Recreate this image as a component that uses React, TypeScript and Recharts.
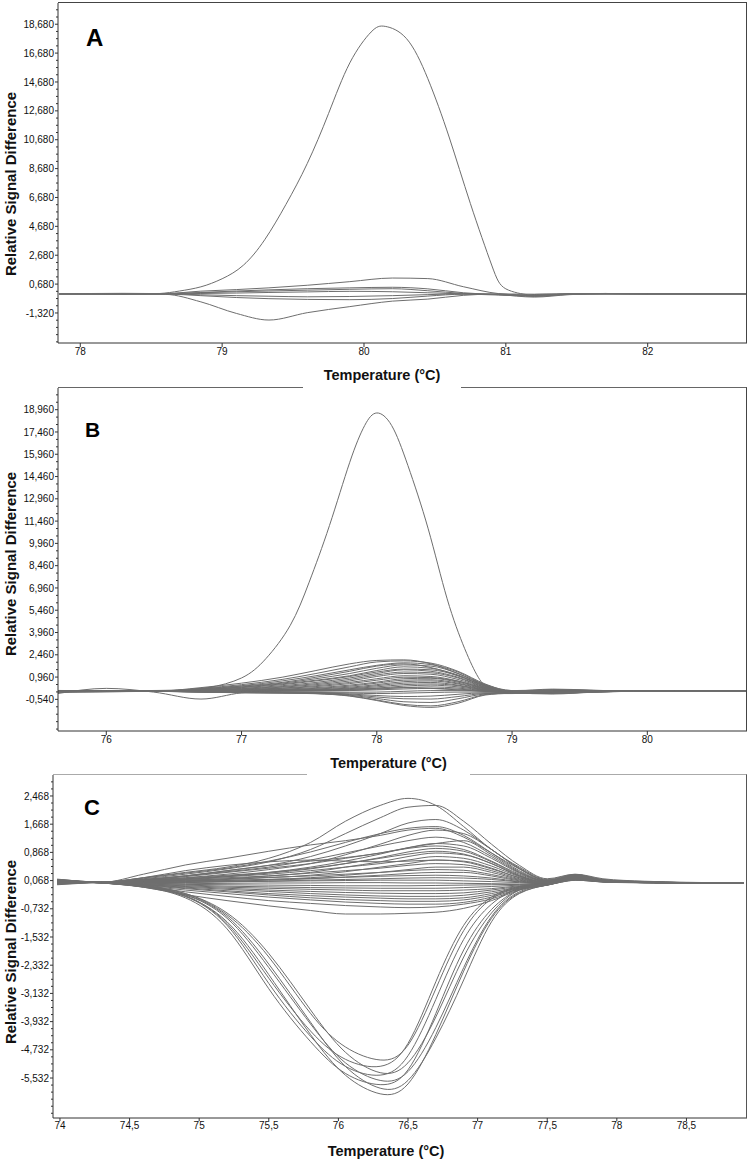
import React from 'react';
import { LineChart, Line, XAxis, YAxis } from 'recharts';

const FONT = "'Liberation Sans', Arial, Helvetica, sans-serif";
const LINE = '#6e6e6e';
const AXIS = '#333333';

// ---------------- Panel A ----------------
const A_X_TICKS = [78, 79, 80, 81, 82];
const A_Y_TICKS = [-1.32, 0.68, 2.68, 4.68, 6.68, 8.68, 10.68, 12.68, 14.68, 16.68, 18.68];
const TA_PEAK = [77.85, 78.3, 78.55, 78.7, 78.85, 79.0, 79.15, 79.3, 79.45, 79.6, 79.75, 79.9, 80.05, 80.15, 80.3, 80.45, 80.6, 80.75, 80.9, 81.0, 81.15, 81.4, 82.7];
const A_PEAK = [0, 0, 0.02, 0.2, 0.49, 1.05, 1.99, 3.75, 6.2, 9.03, 12.49, 16.0, 18.14, 18.53, 17.68, 14.91, 10.87, 6.26, 2.0, 0.35, -0.05, 0, 0];
const TA = [77.85, 78.3, 78.6, 78.85, 79.1, 79.33, 79.6, 79.9, 80.2, 80.45, 80.7, 80.95, 81.2, 81.45, 81.7, 82.0, 82.7];
const A1 = [0, 0.02, 0.03, 0.19, 0.3, 0.42, 0.6, 0.85, 1.1, 1.06, 0.5, 0.02, -0.1, 0, 0.03, 0, 0];
const A2 = [0, 0.04, 0.02, 0.1, 0.2, 0.28, 0.36, 0.42, 0.46, 0.35, 0.08, -0.05, -0.12, 0, 0, 0, 0];
const A3 = [0, -0.03, 0.01, 0.08, 0.15, 0.2, 0.26, 0.32, 0.36, 0.22, 0.03, -0.05, -0.22, -0.05, 0.02, 0, 0];
const A4 = [0, 0.02, 0, 0.03, 0.06, 0.1, 0.14, 0.18, 0.15, 0.08, 0.0, -0.08, -0.15, -0.03, 0.03, 0, 0];
const A5 = [0, -0.02, 0, -0.06, -0.12, -0.16, -0.2, -0.18, -0.12, -0.05, 0, -0.02, -0.08, 0, 0, 0, 0];
const A6 = [0, 0, -0.01, -0.12, -0.25, -0.33, -0.38, -0.4, -0.32, -0.15, -0.02, -0.03, -0.18, -0.02, 0.02, 0, 0];
const A7 = [0, 0, -0.03, -0.55, -1.35, -1.81, -1.3, -0.88, -0.5, -0.36, -0.1, 0, -0.02, 0, 0, 0, 0];

// ---------------- Panel B ----------------
const B_X_TICKS = [76, 77, 78, 79, 80];
const B_Y_TICKS = [-0.54, 0.96, 2.46, 3.96, 5.46, 6.96, 8.46, 9.96, 11.46, 12.96, 14.46, 15.96, 17.46, 18.96];
const TB_PEAK = [75.64, 76.2, 76.5, 76.75, 77.0, 77.18, 77.36, 77.5, 77.65, 77.8, 77.91, 78.0, 78.11, 78.23, 78.38, 78.52, 78.65, 78.75, 78.85, 79.0, 79.3, 80.74];
const B_PEAK = [0.05, 0.05, 0.08, 0.25, 0.9, 2.2, 4.44, 7.35, 11.16, 15.42, 17.89, 18.74, 17.89, 15.2, 10.94, 6.23, 2.87, 0.95, 0.15, -0.05, 0, 0];
const TB = [75.64, 76.0, 76.35, 76.7, 77.0, 77.3, 77.55, 77.8, 78.0, 78.2, 78.4, 78.6, 78.8, 79.0, 79.3, 79.6, 79.9, 80.2, 80.74];
const B_WOBBLE = [-0.15, 0.2, -0.05, -0.52, -0.1, 0.05, 0.1, 0.15, 0.2, 0.25, 0.2, 0.1, 0.0, -0.05, 0, 0, 0, 0, 0];
const B1 = [0.05, 0.03, 0, 0.25, 0.55, 0.95, 1.4, 1.85, 2.08, 2.12, 1.85, 1.2, 0.45, 0.05, 0.0, 0.02, 0, 0, 0];
const B2 = [0.04, 0.02, 0, 0.2, 0.45, 0.8, 1.2, 1.65, 1.98, 2.05, 1.9, 1.35, 0.5, 0.0, -0.05, 0, 0, 0, 0];
const B3 = [-0.03, 0.0, 0, 0.18, 0.38, 0.7, 1.05, 1.45, 1.75, 1.92, 1.8, 1.3, 0.45, -0.02, -0.08, -0.02, 0, 0, 0];
const B4 = [0.02, 0.02, 0, 0.15, 0.35, 0.6, 0.95, 1.35, 1.7, 1.85, 1.6, 1.05, 0.35, -0.05, -0.1, -0.03, 0, 0, 0];
const B5 = [-0.05, -0.02, 0, 0.12, 0.3, 0.55, 0.85, 1.2, 1.55, 1.78, 1.7, 1.2, 0.4, -0.05, -0.12, -0.05, 0, 0, 0];
const B6 = [0.06, 0.03, 0, 0.1, 0.28, 0.5, 0.75, 1.05, 1.4, 1.65, 1.55, 1.1, 0.38, 0.0, -0.08, 0.02, 0, 0, 0];
const B7 = [0.0, 0.01, 0, 0.12, 0.25, 0.45, 0.7, 1.0, 1.3, 1.5, 1.45, 1.05, 0.35, 0.05, 0.1, 0.05, 0, 0, 0];
const B8 = [-0.02, 0.0, 0, 0.08, 0.2, 0.38, 0.6, 0.9, 1.2, 1.45, 1.35, 0.95, 0.3, -0.04, -0.15, -0.05, 0, 0, 0];
const B9 = [0.03, 0.02, 0, 0.08, 0.18, 0.32, 0.52, 0.8, 1.1, 1.3, 1.25, 0.9, 0.28, 0.02, 0.15, 0.08, 0, 0, 0];
const B10 = [-0.06, -0.03, 0, 0.06, 0.15, 0.28, 0.45, 0.7, 1.0, 1.2, 1.15, 0.8, 0.25, -0.06, -0.05, 0, 0, 0, 0];
const B11 = [0.04, 0.02, 0, 0.06, 0.12, 0.22, 0.38, 0.6, 0.85, 1.05, 1.0, 0.7, 0.22, -0.03, 0.05, 0.03, 0, 0, 0];
const B12 = [-0.02, 0, 0, 0.05, 0.1, 0.2, 0.32, 0.52, 0.75, 0.95, 0.92, 0.68, 0.2, -0.1, -0.12, -0.02, 0, 0, 0];
const B13 = [0.02, 0.01, 0, 0.04, 0.08, 0.15, 0.25, 0.42, 0.62, 0.85, 0.88, 0.62, 0.18, -0.05, 0.1, 0.05, 0, 0, 0];
const B14 = [0, 0, 0, 0.03, 0.06, 0.12, 0.2, 0.35, 0.55, 0.75, 0.78, 0.55, 0.15, -0.08, -0.18, -0.06, 0, 0, 0];
const B15 = [0.05, 0.02, 0, 0.02, 0.05, 0.1, 0.16, 0.28, 0.45, 0.65, 0.7, 0.5, 0.12, -0.02, 0.06, 0.02, 0, 0, 0];
const B16 = [-0.04, -0.02, 0, 0.02, 0.04, 0.08, 0.12, 0.22, 0.38, 0.55, 0.6, 0.42, 0.1, -0.1, -0.08, 0, 0, 0, 0];
const B17 = [0.01, 0, 0, 0.01, 0.03, 0.06, 0.1, 0.18, 0.3, 0.45, 0.5, 0.38, 0.08, -0.04, 0.12, 0.06, 0, 0, 0];
const B18 = [0, 0, 0, 0.0, 0.02, 0.04, 0.07, 0.12, 0.22, 0.35, 0.42, 0.3, 0.06, -0.12, -0.15, -0.04, 0, 0, 0];
const B19 = [0.03, 0.01, 0, 0, 0.01, 0.02, 0.04, 0.08, 0.15, 0.25, 0.3, 0.22, 0.04, -0.06, 0.04, 0.02, 0, 0, 0];
const B20 = [-0.03, -0.01, 0, -0.01, 0, 0.01, 0.02, 0.05, 0.1, 0.16, 0.2, 0.15, 0.02, -0.1, -0.1, -0.03, 0, 0, 0];
const B21 = [0.02, 0, 0, -0.02, -0.03, -0.04, -0.05, -0.06, -0.05, 0.0, 0.05, 0.05, 0.0, -0.08, 0.0, 0, 0, 0, 0];
const B22 = [-0.01, 0, 0, -0.03, -0.05, -0.06, -0.08, -0.12, -0.15, -0.12, -0.08, -0.05, -0.05, -0.1, -0.05, 0, 0, 0, 0];
const B23 = [0, 0, 0, -0.03, -0.06, -0.08, -0.1, -0.18, -0.28, -0.35, -0.32, -0.2, -0.1, -0.12, -0.02, 0, 0, 0, 0];
const B24 = [0.01, 0, 0, -0.04, -0.07, -0.09, -0.12, -0.22, -0.38, -0.5, -0.52, -0.35, -0.15, -0.15, -0.08, 0, 0, 0, 0];
const B25 = [0, 0, 0, -0.04, -0.08, -0.1, -0.14, -0.26, -0.48, -0.7, -0.75, -0.5, -0.18, -0.12, -0.03, 0, 0, 0, 0];
const B26 = [-0.02, 0, 0, -0.05, -0.09, -0.11, -0.15, -0.3, -0.58, -0.88, -0.98, -0.7, -0.22, -0.1, 0, 0, 0, 0, 0];
const B27 = [0, 0, 0, -0.05, -0.1, -0.12, -0.16, -0.32, -0.62, -0.95, -1.08, -0.8, -0.25, -0.12, -0.04, 0, 0, 0, 0];

// ---------------- Panel C ----------------
const C_X_TICKS = [74, 74.5, 75, 75.5, 76, 76.5, 77, 77.5, 78, 78.5];
const C_Y_TICKS = [-5.532, -4.732, -3.932, -3.132, -2.332, -1.532, -0.732, 0.068, 0.868, 1.668, 2.468];
const TC = [73.98, 74.15, 74.3, 74.6, 74.9, 75.2, 75.5, 75.8, 76.05, 76.3, 76.5, 76.7, 76.9, 77.1, 77.3, 77.5, 77.7, 77.9, 78.2, 78.5, 78.91];
const T1 = [0.06, 0.03, 0.0, -0.08, -0.3, -0.9, -2.1, -3.7, -4.65, -5.02, -4.6, -3.0, -1.35, -0.45, -0.12, 0.02, 0.18, 0.06, 0.02, 0.0, 0];
const T2 = [0.04, 0.02, 0.0, -0.09, -0.36, -1.15, -2.7, -4.2, -5.0, -5.2, -4.55, -2.8, -1.2, -0.4, -0.1, 0.0, 0.15, 0.05, 0.02, 0.0, 0];
const T3 = [0.08, 0.04, 0.0, -0.08, -0.3, -0.85, -2.0, -3.6, -4.8, -5.38, -5.1, -3.8, -2.1, -0.85, -0.2, 0.03, 0.2, 0.07, 0.03, 0.01, 0];
const T4 = [0.02, 0.02, 0.0, -0.11, -0.38, -1.2, -2.85, -4.35, -5.2, -5.45, -4.9, -3.3, -1.6, -0.6, -0.15, -0.02, 0.12, 0.04, 0.01, 0.0, 0];
const T5 = [0.05, 0.03, 0.0, -0.1, -0.34, -1.0, -2.4, -4.0, -5.1, -5.6, -5.35, -4.1, -2.4, -0.95, -0.25, -0.03, 0.1, 0.03, 0.01, 0.0, 0];
const T6 = [0.07, 0.03, 0.0, -0.12, -0.42, -1.3, -3.0, -4.5, -5.4, -5.72, -5.3, -3.7, -1.9, -0.75, -0.2, -0.04, 0.12, 0.05, 0.02, 0.0, 0];
const T7 = [0.03, 0.02, 0.0, -0.09, -0.33, -0.95, -2.3, -3.95, -5.2, -5.82, -5.6, -4.4, -2.75, -1.1, -0.3, -0.05, 0.1, 0.04, 0.01, 0.0, 0];
const T8 = [0.05, 0.03, 0.0, -0.11, -0.38, -1.1, -2.6, -4.3, -5.45, -5.98, -5.7, -4.3, -2.5, -1.0, -0.28, -0.06, 0.08, 0.03, 0.01, 0.0, 0];
const C1 = [0.08, 0.04, 0.02, 0.15, 0.3, 0.45, 0.7, 1.15, 1.75, 2.2, 2.4, 2.2, 1.6, 0.95, 0.45, 0.1, 0.24, 0.1, 0.04, 0.01, 0];
const C2 = [-0.03, 0.01, 0.02, 0.12, 0.25, 0.4, 0.6, 0.95, 1.4, 1.85, 2.15, 2.2, 1.75, 1.1, 0.5, 0.12, 0.25, 0.12, 0.05, 0.02, 0];
const C3 = [0.1, 0.05, 0.02, 0.25, 0.51, 0.7, 0.9, 1.08, 1.2, 1.35, 1.5, 1.55, 1.3, 0.85, 0.4, 0.08, 0.2, 0.06, 0.03, 0.0, 0];
const C4 = [0.04, 0.02, 0.02, 0.1, 0.2, 0.35, 0.5, 0.75, 1.05, 1.4, 1.7, 1.8, 1.5, 0.95, 0.42, 0.08, 0.2, 0.07, 0.02, 0.01, 0];
const C5 = [0.0, 0.0, 0.02, 0.14, 0.28, 0.42, 0.62, 0.88, 1.15, 1.4, 1.55, 1.6, 1.35, 0.85, 0.35, 0.06, 0.18, 0.05, 0.02, 0.0, 0];
const C6 = [0.06, 0.03, 0.02, 0.08, 0.15, 0.25, 0.38, 0.55, 0.8, 1.1, 1.35, 1.5, 1.4, 0.95, 0.4, 0.07, 0.22, 0.08, 0.03, 0.01, 0];
const C7 = [-0.04, 0.0, 0.02, 0.1, 0.2, 0.32, 0.45, 0.65, 0.85, 1.05, 1.2, 1.3, 1.15, 0.75, 0.3, 0.05, 0.15, 0.05, 0.02, 0.0, 0];
const C8 = [0.09, 0.04, 0.02, 0.06, 0.12, 0.2, 0.3, 0.45, 0.62, 0.82, 1.0, 1.12, 1.05, 0.7, 0.28, 0.04, 0.2, 0.06, 0.02, 0.0, 0];
const C9 = [0.02, 0.02, 0.02, 0.08, 0.18, 0.3, 0.42, 0.55, 0.7, 0.85, 0.98, 1.05, 0.95, 0.62, 0.25, 0.03, 0.18, 0.07, 0.03, 0.01, 0];
const C10 = [0.07, 0.04, 0.02, 0.05, 0.1, 0.18, 0.28, 0.4, 0.55, 0.72, 0.88, 0.98, 0.9, 0.6, 0.22, 0.02, 0.24, 0.09, 0.03, 0.01, 0];
const C11 = [-0.02, 0.01, 0.02, 0.07, 0.14, 0.22, 0.3, 0.42, 0.55, 0.7, 0.82, 0.9, 0.82, 0.55, 0.2, 0.02, 0.16, 0.05, 0.02, 0.0, 0];
const C12 = [0.05, 0.03, 0.02, 0.04, 0.08, 0.12, 0.2, 0.3, 0.45, 0.6, 0.75, 0.85, 0.8, 0.55, 0.2, 0.01, 0.2, 0.06, 0.02, 0.0, 0];
const C13 = [0.11, 0.05, 0.02, 0.06, 0.12, 0.18, 0.25, 0.35, 0.45, 0.55, 0.65, 0.75, 0.7, 0.48, 0.18, 0.0, 0.14, 0.05, 0.02, 0.0, 0];
const C14 = [0.01, 0.01, 0.02, 0.03, 0.06, 0.1, 0.15, 0.22, 0.32, 0.45, 0.55, 0.65, 0.62, 0.42, 0.15, 0.0, 0.22, 0.08, 0.03, 0.01, 0];
const C15 = [0.06, 0.04, 0.02, 0.05, 0.1, 0.15, 0.2, 0.28, 0.35, 0.42, 0.5, 0.55, 0.52, 0.35, 0.12, -0.01, 0.16, 0.06, 0.02, 0.0, 0];
const C16 = [-0.05, -0.01, 0.02, 0.02, 0.04, 0.07, 0.1, 0.15, 0.22, 0.3, 0.38, 0.45, 0.45, 0.3, 0.1, -0.01, 0.18, 0.07, 0.02, 0.0, 0];
const C17 = [0.04, 0.03, 0.02, 0.04, 0.08, 0.12, 0.16, 0.2, 0.25, 0.3, 0.35, 0.38, 0.36, 0.24, 0.08, -0.02, 0.12, 0.04, 0.01, 0.0, 0];
const C18 = [0.08, 0.04, 0.02, 0.01, 0.02, 0.05, 0.08, 0.12, 0.17, 0.22, 0.27, 0.3, 0.3, 0.2, 0.06, -0.02, 0.2, 0.07, 0.02, 0.0, 0];
const C19 = [0.02, 0.02, 0.02, 0.03, 0.06, 0.08, 0.1, 0.13, 0.16, 0.19, 0.21, 0.22, 0.2, 0.14, 0.04, -0.02, 0.15, 0.05, 0.02, 0.0, 0];
const C20 = [0.05, 0.03, 0.02, 0.0, 0.01, 0.03, 0.05, 0.08, 0.1, 0.12, 0.14, 0.15, 0.14, 0.1, 0.03, -0.02, 0.1, 0.04, 0.01, 0.0, 0];
const C21 = [-0.01, 0.01, 0.02, 0.02, 0.03, 0.04, 0.05, 0.06, 0.07, 0.08, 0.08, 0.08, 0.06, 0.04, 0.01, -0.03, 0.18, 0.06, 0.02, 0.0, 0];
const C22 = [0.07, 0.03, 0.02, -0.01, -0.02, -0.01, 0.0, 0.0, 0.01, 0.01, 0.0, 0.0, -0.01, -0.02, -0.03, -0.03, 0.12, 0.05, 0.02, 0.0, 0];
const C23 = [0.03, 0.02, 0.02, -0.02, -0.04, -0.05, -0.06, -0.07, -0.08, -0.08, -0.08, -0.07, -0.06, -0.05, -0.04, -0.03, 0.2, 0.07, 0.02, 0.0, 0];
const C24 = [0.1, 0.05, 0.02, -0.03, -0.06, -0.09, -0.11, -0.13, -0.14, -0.15, -0.15, -0.15, -0.13, -0.1, -0.06, -0.04, 0.14, 0.05, 0.02, 0.0, 0];
const C25 = [0.0, 0.01, 0.02, -0.04, -0.08, -0.12, -0.15, -0.18, -0.2, -0.22, -0.22, -0.22, -0.2, -0.16, -0.08, -0.04, 0.1, 0.04, 0.01, 0.0, 0];
const C26 = [0.06, 0.03, 0.02, -0.05, -0.1, -0.15, -0.2, -0.24, -0.27, -0.29, -0.3, -0.3, -0.28, -0.2, -0.1, -0.05, 0.16, 0.06, 0.02, 0.0, 0];
const C27 = [0.04, 0.02, 0.02, -0.05, -0.12, -0.18, -0.24, -0.3, -0.34, -0.37, -0.38, -0.38, -0.35, -0.25, -0.12, -0.05, 0.12, 0.04, 0.01, 0.0, 0];
const C28 = [0.09, 0.04, 0.02, -0.06, -0.14, -0.22, -0.3, -0.36, -0.4, -0.43, -0.45, -0.45, -0.42, -0.3, -0.14, -0.05, 0.08, 0.03, 0.01, 0.0, 0];
const C29 = [0.02, 0.02, 0.02, -0.07, -0.16, -0.25, -0.34, -0.42, -0.47, -0.5, -0.52, -0.52, -0.48, -0.35, -0.15, -0.05, 0.1, 0.04, 0.01, 0.0, 0];
const C30 = [0.07, 0.03, 0.02, -0.08, -0.2, -0.3, -0.4, -0.48, -0.54, -0.58, -0.6, -0.6, -0.55, -0.4, -0.17, -0.06, 0.14, 0.05, 0.02, 0.0, 0];
const C31 = [0.03, 0.02, 0.02, -0.09, -0.25, -0.38, -0.5, -0.58, -0.64, -0.68, -0.7, -0.68, -0.6, -0.45, -0.18, -0.06, 0.1, 0.04, 0.01, 0.0, 0];
const C32 = [0.05, 0.03, 0.02, -0.12, -0.33, -0.5, -0.65, -0.78, -0.88, -0.88, -0.86, -0.83, -0.72, -0.5, -0.2, -0.06, 0.08, 0.03, 0.01, 0.0, 0];
const C33 = [0.08, 0.04, 0.02, 0.15, 0.35, 0.5, 0.6, 0.65, 0.62, 0.6, 0.62, 0.65, 0.6, 0.4, 0.15, 0.0, 0.18, 0.06, 0.02, 0.0, 0];
const C34 = [0.0, 0.01, 0.02, 0.08, 0.2, 0.35, 0.5, 0.62, 0.72, 0.85, 1.0, 1.12, 1.2, 0.8, 0.32, 0.05, 0.22, 0.08, 0.03, 0.01, 0];

type Curve = { t: number[]; v: number[]; smooth?: boolean };

const A_SERIES: Curve[] = [
  { t: TA_PEAK, v: A_PEAK, smooth: true },
  ...[A1, A2, A3, A4, A5, A6, A7].map((v) => ({ t: TA, v })),
];
const B_SERIES: Curve[] = [
  { t: TB_PEAK, v: B_PEAK, smooth: true },
  ...[B_WOBBLE, B1, B2, B3, B4, B5, B6, B7, B8, B9, B10, B11, B12, B13, B14, B15, B16, B17, B18, B19, B20, B21, B22, B23, B24, B25, B26, B27].map((v) => ({ t: TB, v })),
];
const C_SERIES: Curve[] = [
  ...[T1, T2, T3, T4, T5, T6, T7, T8].map((v) => ({ t: TC, v, smooth: true })),
  ...[
    C1, C2, C3, C4, C5, C6, C7, C8, C9, C10, C11, C12, C13, C14, C15, C16, C17,
    C18, C19, C20, C21, C22, C23, C24, C25, C26, C27, C28, C29, C30, C31, C32, C33, C34,
  ].map((v) => ({ t: TC, v })),
];

const fmtY = (v: number) => v.toFixed(3).replace('.', ',');
const fmtX = (v: number) => String(v).replace('.', ',');

function withMinor(majors: number[], step: number, lo: number, hi: number) {
  const out: number[] = [];
  const base = majors[0];
  const kMin = Math.ceil((lo - base) / step);
  const kMax = Math.floor((hi - base) / step);
  for (let k = kMin; k <= kMax; k++) out.push(Math.round((base + k * step) * 1000) / 1000);
  return out;
}

function makeYTick(majors: number[], axisX: number) {
  return (props: any) => {
    const { y, payload } = props;
    const v = payload.value;
    const major = majors.some((m) => Math.abs(m - v) < 1e-6);
    return (
      <g>
        <line x1={axisX - (major ? 3 : 2)} x2={axisX} y1={y} y2={y} stroke={AXIS} strokeWidth={1} />
        {major && (
          <text x={axisX - 4} y={y} dy="0.36em" textAnchor="end" fontSize={10} fontFamily={FONT} fill="#111">
            {fmtY(v)}
          </text>
        )}
      </g>
    );
  };
}

type PanelProps = {
  top: number;
  height: number;
  marginTop: number;
  yWidth: number;
  xDomain: [number, number];
  yDomain: [number, number];
  xTicks: number[];
  yMajor: number[];
  yStep: number;
  series: Curve[];
  xTickSize: number;
};

function Panel(p: PanelProps) {
  const plotLeft = 8 + p.yWidth;
  const yTicks = withMinor(p.yMajor, p.yStep, p.yDomain[0], p.yDomain[1]);
  return (
    <div style={{ position: 'absolute', left: 0, top: p.top, width: 750, height: p.height }}>
      <LineChart width={750} height={p.height} margin={{ top: p.marginTop, right: 3, bottom: 0, left: 8 }}>
        <XAxis
          type="number"
          dataKey="t"
          domain={p.xDomain}
          allowDataOverflow
          ticks={p.xTicks}
          interval={0}
          tickFormatter={fmtX}
          tickSize={p.xTickSize}
          tickMargin={1}
          height={29}
          axisLine={{ stroke: AXIS }}
          tickLine={{ stroke: AXIS }}
          tick={{ fontSize: 10, fill: '#111', fontFamily: FONT }}
        />
        <YAxis
          type="number"
          domain={p.yDomain}
          allowDataOverflow
          ticks={yTicks}
          interval={0}
          width={p.yWidth}
          axisLine={{ stroke: AXIS }}
          tickLine={false}
          tick={makeYTick(p.yMajor, plotLeft)}
        />
        {p.series.map((c, i) => (
          <Line
            key={i}
            data={c.t.map((t, j) => ({ t, v: c.v[j] }))}
            dataKey="v"
            type={c.smooth ? 'natural' : 'monotone'}
            stroke={LINE}
            strokeWidth={1}
            dot={false}
            activeDot={false}
            isAnimationActive={false}
          />
        ))}
      </LineChart>
    </div>
  );
}

const abs = (s: React.CSSProperties): React.CSSProperties => ({ position: 'absolute', zIndex: 3, ...s });

function YLabel({ cx, cy }: { cx: number; cy: number }) {
  return (
    <div
      style={abs({
        left: cx,
        top: cy,
        transform: 'translate(-50%, -50%) rotate(-90deg)',
        whiteSpace: 'nowrap',
        fontFamily: FONT,
        fontWeight: 'bold',
        fontSize: 15,
        lineHeight: '15px',
        color: '#111',
      })}
    >
      Relative Signal Difference
    </div>
  );
}

function XTitle({ left, width, top, height, baseline }: { left: number; width: number; top: number; height: number; baseline: number }) {
  const fs = 14.5;
  return (
    <div style={abs({ left, top, width, height, background: '#fff', zIndex: 4 })}>
      <div
        style={{
          position: 'absolute',
          left: 0,
          width,
          top: baseline - top - 0.8465 * fs,
          textAlign: 'center',
          fontFamily: FONT,
          fontWeight: 'bold',
          fontSize: fs,
          lineHeight: `${fs}px`,
          whiteSpace: 'nowrap',
          color: '#111',
        }}
      >
        Temperature (°C)
      </div>
    </div>
  );
}

function Letter({ ch, left, capTop, fs }: { ch: string; left: number; capTop: number; fs: number }) {
  return (
    <div
      style={abs({
        left,
        top: capTop - 0.1305 * fs,
        fontFamily: FONT,
        fontWeight: 'bold',
        fontSize: fs,
        lineHeight: `${fs}px`,
        color: '#000',
      })}
    >
      {ch}
    </div>
  );
}

export default function App() {
  return (
    <div style={{ position: 'absolute', left: 0, top: 0, width: 750, height: 1160, background: '#fff', overflow: 'hidden' }}>
      <Panel
        top={0}
        height={372}
        marginTop={3}
        yWidth={50}
        xDomain={[77.843, 82.7]}
        yDomain={[-3.4, 20.15]}
        xTicks={A_X_TICKS}
        yMajor={A_Y_TICKS}
        yStep={0.5}
        series={A_SERIES}
        xTickSize={4}
      />
      <Panel
        top={384}
        height={376}
        marginTop={4}
        yWidth={50}
        xDomain={[75.643, 80.737]}
        yDomain={[-2.67, 20.42]}
        xTicks={B_X_TICKS}
        yMajor={B_Y_TICKS}
        yStep={0.5}
        series={B_SERIES}
        xTickSize={4}
      />
      <Panel
        top={772}
        height={375}
        marginTop={3}
        yWidth={45}
        xDomain={[73.95, 78.935]}
        yDomain={[-6.666, 3.063]}
        xTicks={C_X_TICKS}
        yMajor={C_Y_TICKS}
        yStep={0.2}
        series={C_SERIES}
        xTickSize={3}
      />

      {/* box frames (top / right edges) */}
      <div style={abs({ left: 58, top: 2, width: 689, height: 341, borderTop: '1px solid #444', borderRight: '1px solid #444', boxSizing: 'border-box' })} />
      <div style={abs({ left: 58, top: 387, width: 689, height: 344, borderTop: '1px solid #666', borderRight: '1px solid #444', boxSizing: 'border-box' })} />
      <div style={abs({ left: 53, top: 774, width: 694, height: 344, borderTop: '1px solid #aaa', borderRight: '1px solid #555', boxSizing: 'border-box' })} />

      <Letter ch="A" left={86} capTop={29} fs={24} />
      <Letter ch="B" left={85} capTop={422} fs={21} />
      <Letter ch="C" left={84} capTop={800} fs={22} />

      <YLabel cx={10} cy={183.5} />
      <YLabel cx={10} cy={563.5} />
      <YLabel cx={10} cy={952} />

      <XTitle left={303} width={158} top={365} height={27} baseline={380} />
      <XTitle left={307} width={163} top={754} height={26} baseline={768} />
      <XTitle left={305} width={162} top={1138} height={22} baseline={1156} />
    </div>
  );
}
